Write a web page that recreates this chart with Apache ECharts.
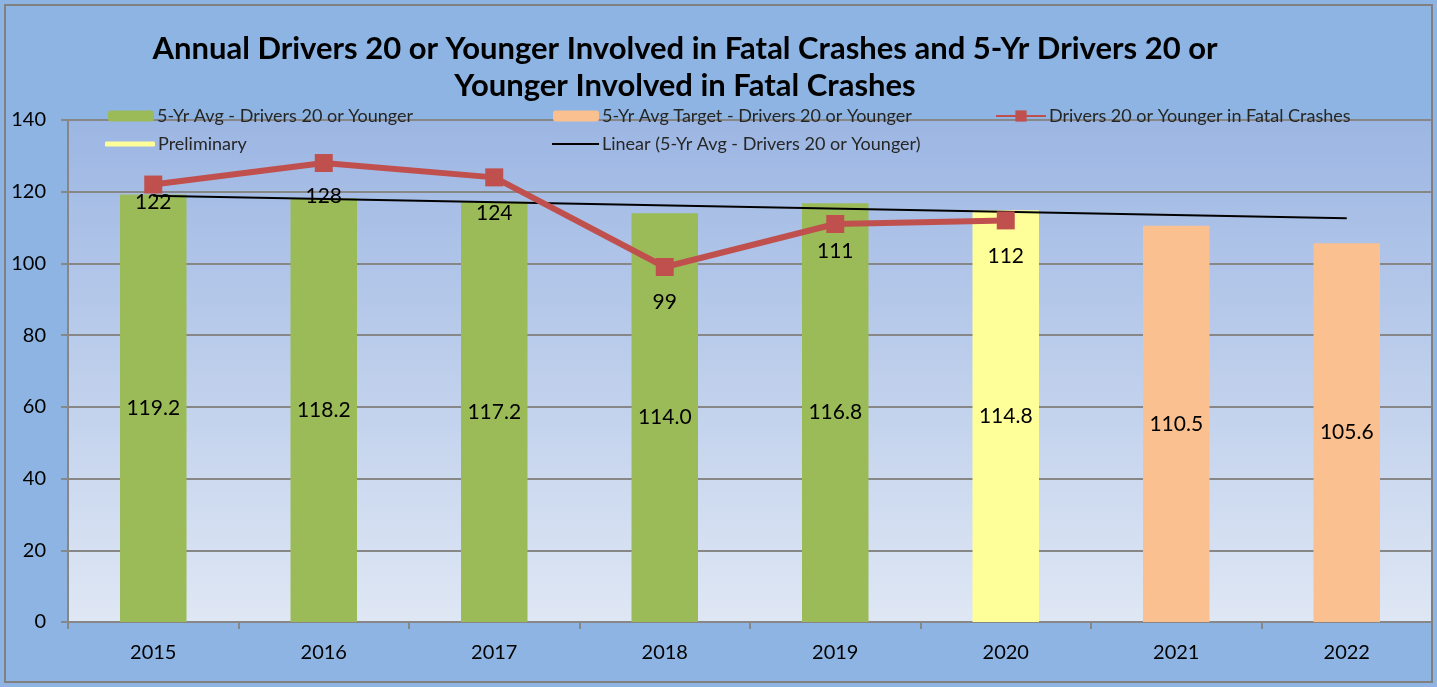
<!DOCTYPE html>
<html><head><meta charset="utf-8">
<script src="https://cdn.jsdelivr.net/npm/echarts@6/dist/echarts.min.js"></script>
<style>html,body{margin:0;padding:0;background:#fff}#c{width:1437px;height:687px}</style>
</head><body><div id="c"></div>
<script>
const categories = ['2015','2016','2017','2018','2019','2020','2021','2022'];
const avg5yr = [119.2, 118.2, 117.2, 114.0, 116.8, null, null, null];
const preliminary = [null, null, null, null, null, 114.8, null, null];
const target = [null, null, null, null, null, null, 110.5, 105.6];
const annual = [122, 128, 124, 99, 111, 112, null, null];
const trend = [118.9, null, null, null, null, null, null, 112.6];
const yTicks = [0, 20, 40, 60, 80, 100, 120, 140];

const FONT = 'Lato';
const names = {
  avg: '5-Yr Avg - Drivers 20 or Younger',
  tgt: '5-Yr Avg Target - Drivers 20 or Younger',
  ann: 'Drivers 20 or Younger in Fatal Crashes',
  pre: 'Preliminary',
  lin: 'Linear (5-Yr Avg - Drivers 20 or Younger)'
};
const chart = echarts.init(document.getElementById('c'));
const legendText = {fontFamily: FONT, fontSize: 18, color: '#262626', padding: [0, 0, 0, -2]};
const barLabel = {show: true, position: 'inside', fontFamily: FONT, fontSize: 21, color: '#000',
  formatter: p => p.value == null ? '' : Number(p.value).toFixed(1)};
const lblOffsets = [[0,-18],[0,-2],[0,0],[0,0],[0,-8],[0,0]];
chart.setOption({
  backgroundColor: '#8DB4E2',
  animation: false,
  title: {
    text: 'Annual Drivers 20 or Younger Involved in Fatal Crashes and 5-Yr Drivers 20 or\nYounger Involved in Fatal Crashes',
    left: 680, top: 25, textAlign: 'center',
    textStyle: {fontFamily: FONT, fontWeight: 'bold', fontSize: 31, color: '#000', lineHeight: 37}
  },
  graphic: [{type: 'rect', shape: {x: 5, y: 5, width: 1427, height: 677}, silent: true, z: 100,
    style: {fill: 'none', stroke: '#808080', lineWidth: 2}}],
  legend: [
    {data: [names.avg], left: 103, top: 102, itemWidth: 46, itemHeight: 11, itemGap: 6, textStyle: legendText},
    {data: [names.tgt], left: 548, top: 102, itemWidth: 46, itemHeight: 11, textStyle: legendText},
    {data: [names.ann], left: 990, top: 102, itemWidth: 50, itemHeight: 14, textStyle: legendText},
    {data: [{name: names.pre, icon: 'roundRect'}], left: 100, top: 130, itemWidth: 50, itemHeight: 5, textStyle: legendText},
    {data: [{name: names.lin, icon: 'rect'}], left: 547, top: 130, itemWidth: 47, itemHeight: 2, textStyle: legendText}
  ],
  grid: {left: 68, right: 5, top: 120, bottom: 65, show: true, borderWidth: 0,
    backgroundColor: new echarts.graphic.LinearGradient(0, 0, 0, 1, [
      {offset: 0, color: '#9CB6E3'}, {offset: 1, color: '#DFE7F4'}])},
  xAxis: {
    type: 'category', data: categories,
    axisLine: {lineStyle: {color: '#878787', width: 2}},
    axisTick: {show: true, length: 7, lineStyle: {color: '#878787', width: 2}},
    axisLabel: {fontFamily: FONT, fontSize: 20, color: '#000', margin: 21}
  },
  yAxis: {
    type: 'value', min: yTicks[0], max: yTicks[yTicks.length - 1], interval: 20,
    axisLine: {show: true, lineStyle: {color: '#878787', width: 2}},
    axisTick: {show: true, length: 7, lineStyle: {color: '#878787', width: 2}},
    splitLine: {lineStyle: {color: '#878787', width: 2}},
    axisLabel: {fontFamily: FONT, fontSize: 20, color: '#000', margin: 22}
  },
  series: [
    {name: names.avg, type: 'bar', data: avg5yr, barWidth: '39%', barGap: '-100%',
      itemStyle: {color: '#9BBB59'}, label: barLabel, z: 2},
    {name: names.pre, type: 'bar', data: preliminary, barWidth: '39%', barGap: '-100%',
      itemStyle: {color: '#FFFF99'}, label: barLabel, z: 2},
    {name: names.tgt, type: 'bar', data: target, barWidth: '39%', barGap: '-100%',
      itemStyle: {color: '#FAC090'}, label: barLabel, z: 2},
    {name: names.lin, type: 'line', data: trend, connectNulls: true, symbol: 'none',
      lineStyle: {color: '#000', width: 2}, itemStyle: {color: '#000'}, z: 4},
    {name: names.ann, type: 'line',
      data: annual.map((v, i) => ({value: v, label: {offset: lblOffsets[i] || [0,0]}})),
      symbol: 'rect', symbolSize: 18,
      lineStyle: {color: '#C0504D', width: 6}, itemStyle: {color: '#C0504D'},
      label: {show: true, position: 'bottom', distance: 16, fontFamily: FONT, fontSize: 21, color: '#000'}, z: 5}
  ]
});
</script></body></html>
